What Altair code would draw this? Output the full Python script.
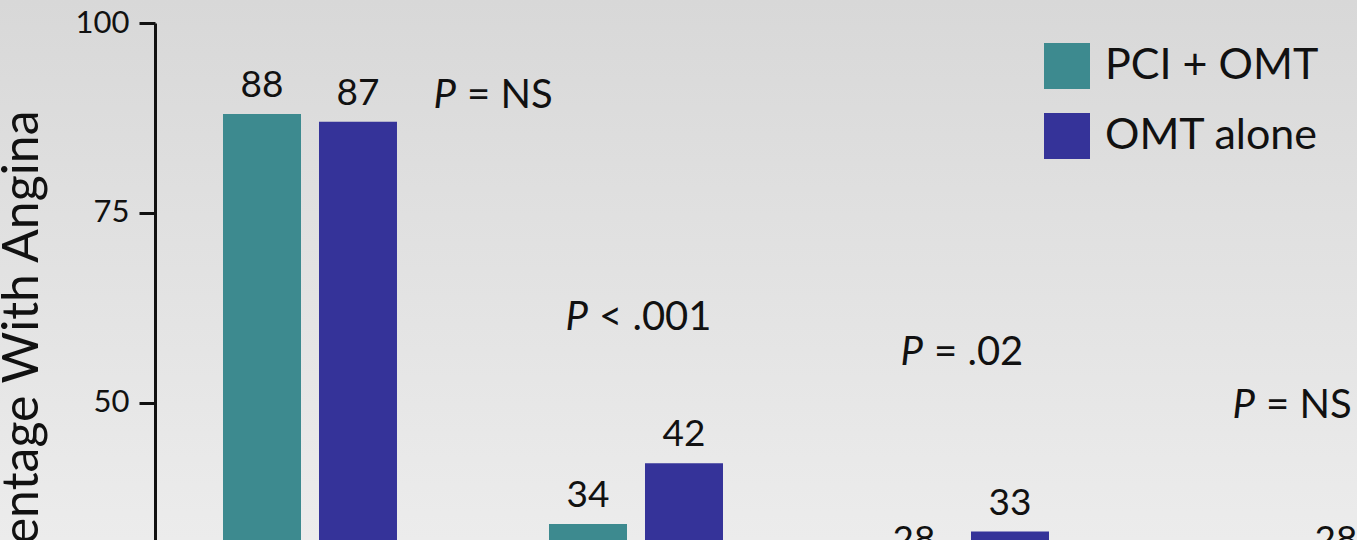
import altair as alt
import pandas as pd

# --- data -------------------------------------------------------------
groups = ["Baseline", "1 Year", "3 Years", "5 Years"]
series = ["PCI + OMT", "OMT alone"]
pci_omt = [88, 34, 28, 26]
omt_alone = [87, 42, 33, 28]
p_rest = ["= NS", "< .001", "= .02", "= NS"]
p_level = [88.8, 59.6, 54.9, 48.0]
y_ticks = [0, 25, 50, 75, 100]
colors = ["#3d8a8f", "#353399"]

rows = []
for g, a, b in zip(groups, pci_omt, omt_alone):
    rows.append({"group": g, "series": series[0], "value": a})
    rows.append({"group": g, "series": series[1], "value": b})
bars_df = pd.DataFrame(rows)
notes_df = pd.DataFrame({"group": groups, "rest": p_rest, "value": p_level})

# --- layout -----------------------------------------------------------
FONT = "Lato"
INK = "#111111"
PAD_LEFT, PAD_TOP = 155, 23
VIEW_W, VIEW_H = 1202, 517          # visible part of the plot area
X_SPAN, Y_SPAN = 1288, 759          # full extent of the scales

x_enc = alt.X(
    "group:N",
    sort=groups,
    axis=None,
    scale=alt.Scale(domain=groups, range=[0, X_SPAN],
                    paddingInner=0.4663, paddingOuter=0.2086),
)
xoff_enc = alt.XOffset(
    "series:N",
    scale=alt.Scale(domain=series, paddingInner=0.1875, paddingOuter=0),
)
y_axis = alt.Axis(
    values=y_ticks, grid=False, zindex=2,
    domainColor=INK, domainWidth=3,
    tickColor=INK, tickWidth=3, tickSize=16,
    labelFont=FONT, labelFontSize=31, labelColor=INK, labelPadding=10,
    labelFlush=False,
    title="Percentage With Angina",
    titleFont=FONT, titleFontSize=50, titleFontWeight="normal", titleColor=INK,
    titleAngle=270, titleAlign="right", titleBaseline="alphabetic",
    titleX=-118, titleY=87,
)
y_enc = alt.Y(
    "value:Q",
    axis=y_axis,
    scale=alt.Scale(domain=[0, 100], range=[Y_SPAN, 0], nice=False, zero=True),
)

# soft grey backdrop, darker at the top
backdrop = alt.Chart(alt.Data(values=[{"k": 1}])).mark_rect(
    fill=alt.LinearGradient(
        gradient="linear", x1=0, y1=0, x2=0, y2=1,
        stops=[alt.GradientStop(color="#d8d8d8", offset=0),
               alt.GradientStop(color="#ececec", offset=1)],
    ),
    clip=False,
).encode(
    x=alt.value(-PAD_LEFT), x2=alt.value(VIEW_W),
    y=alt.value(-PAD_TOP), y2=alt.value(VIEW_H),
)

base = alt.Chart(bars_df)

bars = base.mark_bar(clip=True).encode(
    x=x_enc, xOffset=xoff_enc, y=y_enc,
    color=alt.Color(
        "series:N",
        scale=alt.Scale(domain=series, range=colors),
        legend=alt.Legend(
            title=None, orient="none", legendX=889, legendY=20,
            symbolType="square", symbolSize=2116, symbolStrokeWidth=0,
            symbolOpacity=1, labelFont=FONT, labelFontSize=43,
            labelColor=INK, labelOffset=15, labelLimit=500,
            rowPadding=24, padding=0, zindex=2,
        ),
    ),
)

value_labels = base.mark_text(
    baseline="alphabetic", dy=-17, font=FONT, fontSize=37, color=INK,
).encode(x=x_enc, xOffset=xoff_enc, y=y_enc, text="value:Q")

# P-value notes: italic "P" followed by the comparison text
note_dx = [146, -48, -39, -33]
notes = []
note_base = alt.Chart(notes_df)
for g, dx in zip(groups, note_dx):
    sub = note_base.transform_filter(alt.datum.group == g)
    notes.append(sub.mark_text(
        align="right", baseline="alphabetic", dx=dx,
        font=FONT, fontSize=40, fontStyle="italic", color=INK,
    ).encode(x=x_enc, y=y_enc, text=alt.value("P")))
    notes.append(sub.mark_text(
        align="left", baseline="alphabetic", dx=dx + 11,
        font=FONT, fontSize=40, color=INK,
    ).encode(x=x_enc, y=y_enc, text="rest:N"))

chart = alt.layer(backdrop, bars, value_labels, *notes).properties(
    width=VIEW_W, height=VIEW_H,
    padding={"left": PAD_LEFT, "top": PAD_TOP, "right": 0, "bottom": 0},
    autosize=alt.AutoSizeParams(type="none"),
    background="#e2e2e2",
).configure_view(stroke=None)

chart.save("out.html", embed_options={"renderer": "svg", "actions": False})
